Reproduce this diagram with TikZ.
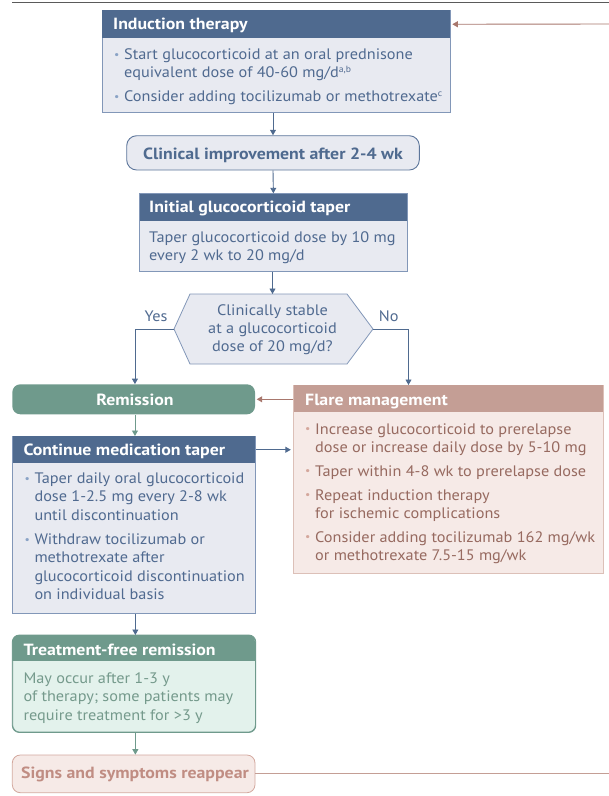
\documentclass[tikz,border=0pt]{standalone}
\usepackage{fontspec}
\setmainfont{PT Sans}[FakeStretch=1.07, BoldFeatures={FakeStretch=1.1}]
\usetikzlibrary{arrows.meta}
\definecolor{blueH}{HTML}{4F6A8F}
\definecolor{blueBody}{HTML}{E8EAF1}
\definecolor{blueBorder}{HTML}{8297B8}
\definecolor{blueDark}{HTML}{5D769B}
\definecolor{blueText}{HTML}{506A90}
\definecolor{blueBul}{HTML}{8AA3C6}
\definecolor{greenH}{HTML}{6F9A8C}
\definecolor{greenBody}{HTML}{E3F2EC}
\definecolor{greenText}{HTML}{759A8C}
\definecolor{brownH}{HTML}{C49E95}
\definecolor{brownBody}{HTML}{F6EAE7}
\definecolor{brownBorder}{HTML}{DCC0B8}
\definecolor{brownText}{HTML}{976A60}
\definecolor{brownBul}{HTML}{D4A79C}
\definecolor{brownArrow}{HTML}{A8776D}
\definecolor{signsText}{HTML}{C08D83}
\definecolor{signsBorder}{HTML}{D3A89E}
\definecolor{topRule}{HTML}{5A5A5A}
\newcommand\bul[1]{\makebox[10pt][l]{\textcolor{#1}{\fontsize{11}{11}\selectfont\raisebox{1.2pt}{•}}}}
\newcommand\ind{\hspace*{10pt}}
\newcommand\supr[1]{{\fontsize{9}{9}\selectfont\raisebox{5pt}{#1}}}
\tikzset{
  conn/.style={line width=0.9pt, -{Triangle[length=5.5pt,width=6pt]}},
  boxnode/.style={anchor=north west, inner sep=0, line width=0.8pt},
  hdrtext/.style={anchor=base west, inner sep=0, text=white, font=\fontsize{16.2}{18}\selectfont\bfseries},
  bodytext/.style={anchor=north west, inner sep=0, align=left, font=\fontsize{15.2}{18.3}\selectfont},
  boldc/.style={anchor=base, inner sep=0, font=\fontsize{16.2}{18}\selectfont\bfseries},
}
\begin{document}
\begin{tikzpicture}[x=1pt,y=-1pt]
\useasboundingbox (0,0) rectangle (609,796);
% top rule
\draw[topRule, line width=1.4pt] (12.3,2.6) -- (609,2.6);

% Induction therapy
\node[boxnode, draw=blueBorder, fill=blueBody, minimum width=348.3pt, minimum height=102.3pt] (ind) at (101.7,10) {};
\node[boxnode, fill=blueH, minimum width=348.3pt, minimum height=27.7pt] (indh) at (101.7,10) {};
\node[hdrtext] (indt) at (113,29.5) {Induction therapy};
\node[bodytext, text=blueText] (indb) at (114,46.2) {\strut\bul{blueBul}Start glucocorticoid at an oral prednisone\\
\ind equivalent dose of 40-60 mg/d\supr{a,b}\\[5.5pt]
\bul{blueBul}Consider adding tocilizumab or methotrexate\supr{c}};

% Clinical improvement
\node[draw=blueDark, fill=blueBody, line width=0.9pt, rounded corners=10pt, minimum width=292.6pt, minimum height=34.3pt, inner sep=0] (ci) at (273,152.85) {};
\node[boldc, text=blueH] (cit) at (273,159.3) {Clinical improvement after 2-4 wk};

% Initial glucocorticoid taper
\node[boxnode, draw=blueBorder, fill=blueBody, minimum width=267.4pt, minimum height=77.4pt] (it) at (139.3,193.3) {};
\node[boxnode, fill=blueH, minimum width=267.4pt, minimum height=27.4pt] (ith) at (139.3,193.3) {};
\node[hdrtext] (itt) at (149,212.3) {Initial glucocorticoid taper};
\node[bodytext, text=blueText] (itb) at (149,229) {\strut Taper glucocorticoid dose by 10 mg\\ every 2 wk to 20 mg/d};

% Decision hexagon
\coordinate (decT) at (272.5,294);
\coordinate (decL) at (174,329);
\coordinate (decR) at (373,329);
\coordinate (noTurn) at (408.5,329);
\draw[draw=blueBorder, fill=blueBody, line width=0.8pt] (190,294) -- (347,294) -- (decR) -- (347,364) -- (190,364) -- (decL) -- cycle;
\node[anchor=north, inner sep=0, align=center, text=blueText, font=\fontsize{15.2}{18.3}\selectfont] (dec) at (272.5,302.2) {\strut Clinically stable\\ at a glucocorticoid\\ dose of 20 mg/d?};
\node[anchor=base, inner sep=0, text=blueText, font=\fontsize{15.2}{18}\selectfont] (yes) at (156,321.7) {Yes};
\node[anchor=base, inner sep=0, text=blueText, font=\fontsize{15.2}{18}\selectfont] (no) at (388.7,321.7) {No};

% Remission
\node[fill=greenH, rounded corners=8pt, minimum width=242.7pt, minimum height=30pt, inner sep=0] (rem) at (133.65,399.3) {};
\node[boldc, text=white] (remt) at (135,405) {Remission};

% Flare management
\node[boxnode, draw=brownBorder, fill=brownBody, minimum width=309.4pt, minimum height=188.3pt] (fl) at (293.3,385) {};
\node[boxnode, fill=brownH, minimum width=309.4pt, minimum height=26.7pt] (flh) at (293.3,385) {};
\node[hdrtext] (flt) at (305,405) {Flare management};
\node[bodytext, text=brownText, font=\fontsize{15.2}{18}\selectfont] (flb) at (305,421.2) {\strut\bul{brownBul}Increase glucocorticoid to prerelapse\\
\ind dose or increase daily dose by 5-10 mg\\[6pt]
\bul{brownBul}Taper within 4-8 wk to prerelapse dose\\[6pt]
\bul{brownBul}Repeat induction therapy\\
\ind for ischemic complications\\[6pt]
\bul{brownBul}Consider adding tocilizumab 162 mg/wk\\
\ind or methotrexate 7.5-15 mg/wk};

% Continue medication taper
\node[boxnode, draw=blueBorder, fill=blueBody, minimum width=242.7pt, minimum height=177.3pt] (cm) at (12.3,436) {};
\node[boxnode, fill=blueH, minimum width=242.7pt, minimum height=26.7pt] (cmh) at (12.3,436) {};
\node[hdrtext] (cmt) at (23.3,455.7) {Continue medication taper};
\node[bodytext, text=blueText] (cmb) at (24.3,470.5) {\strut\bul{blueBul}Taper daily oral glucocorticoid\\
\ind dose 1-2.5 mg every 2-8 wk\\
\ind until discontinuation\\[6pt]
\bul{blueBul}Withdraw tocilizumab or\\
\ind methotrexate after\\
\ind glucocorticoid discontinuation\\
\ind on individual basis};

% Treatment-free remission
\node[boxnode, draw=greenH, fill=greenBody, rounded corners=7pt, minimum width=242.7pt, minimum height=96.7pt] (tf) at (12.3,635) {};
\begin{scope}
\clip (12.3,635) rectangle (255,660.7);
\fill[greenH, rounded corners=7pt] (12.3,635) rectangle (255,731.7);
\end{scope}
\draw[greenH, line width=0.8pt, rounded corners=7pt] (tf.north west) rectangle (tf.south east);
\node[hdrtext] (tft) at (23.3,655) {Treatment-free remission};
\node[bodytext, text=greenText] (tfb) at (23.3,670.5) {\strut May occur after 1-3 y\\ of therapy; some patients may\\ require treatment for >3 y};

% Signs and symptoms reappear
\node[draw=signsBorder, fill=brownBody, line width=0.8pt, rounded corners=8pt, minimum width=242.7pt, minimum height=37.7pt, inner sep=0] (sg) at (133.65,773.85) {};
\node[boldc, text=signsText] (sgt) at (135,778.3) {Signs and symptoms reappear};

% edge coordinates
\coordinate (edgeTop) at (609,24);
\coordinate (edgeBot) at (609,773.85);

% connectors
\draw[conn, blueH] (ind.south -| ci.north) -- (ci.north);
\draw[conn, blueH] (ci.south) -- (it.north);
\draw[conn, blueH] (it.south -| decT) -- (decT);
\draw[conn, blueH] (decL) -| ([xshift=1.3pt]rem.north);
\draw[conn, blueH] (decR) -- (noTurn) -- (noTurn |- fl.north);
\draw[conn, brownArrow] (rem.east -| fl.west) -- ([xshift=1.5pt]rem.east);
\draw[conn, greenH] ([xshift=1.3pt]rem.south) -- ([xshift=1.3pt]rem.south |- cm.north);
\draw[conn, blueH] (cmh.east) -- ([xshift=-2.5pt]cmh.east -| fl.west);
\draw[conn, blueH] ([xshift=1.3pt]cm.south) -- ([xshift=1.3pt]cm.south |- tf.north);
\draw[conn, greenH] ([xshift=1.3pt]tf.south) -- ([xshift=1.3pt]tf.south |- sg.north);
\draw[conn, brownArrow] (edgeTop) -- ([xshift=1.5pt]indh.east);
\draw[line width=0.9pt, brownH] (sg.east) -- (edgeBot);
\end{tikzpicture}
\end{document}
